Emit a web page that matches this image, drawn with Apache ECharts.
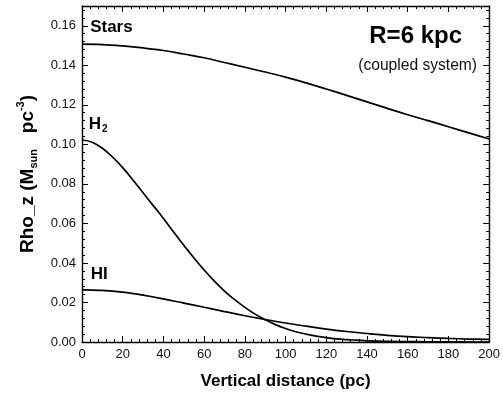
<!DOCTYPE html>
<html>
<head>
<meta charset="utf-8">
<script src="https://cdn.jsdelivr.net/npm/echarts@6/dist/echarts.min.js"></script>
<style>
  html, body { margin: 0; padding: 0; background: #fff; }
  #chart { width: 503px; height: 398px; }
</style>
</head>
<body>
<div id="chart"></div>
<script>
// Vertical distance from the mid-plane (pc)
const zValues = [0, 10, 20, 30, 40, 50, 60, 70, 80, 90, 100,
                 110, 120, 130, 140, 150, 160, 170, 180, 190, 200];
// Finer sampling for the steep molecular-gas profile
const zFine = [0, 5, 10, 15, 20, 25, 30, 35, 40, 45, 50, 55, 60, 65, 70, 75, 80, 85, 90, 95, 100,
               105, 110, 115, 120, 125, 130, 135, 140, 150, 160, 170, 180, 190, 200];

// Volume densities (M_sun pc^-3)
const starsRho = [0.1507, 0.1505, 0.1498, 0.1488, 0.1475, 0.1457, 0.1438, 0.1414, 0.1390, 0.1366, 0.1340,
                  0.1311, 0.1280, 0.1248, 0.1215, 0.1182, 0.1150, 0.1120, 0.1089, 0.1058, 0.1027];
const h2Rho    = [0.1022, 0.1011, 0.0980, 0.0936, 0.0882, 0.0820, 0.0755, 0.0690, 0.0625, 0.0556, 0.0490,
                  0.0425, 0.0364, 0.0308, 0.0258, 0.0214, 0.0175, 0.0141, 0.0113, 0.0088, 0.0068,
                  0.0052, 0.0040, 0.0030, 0.0022, 0.0016, 0.0012, 0.0009, 0.0006, 0.0003, 0.0002,
                  0.0001, 0.0001, 0.0000, 0.0000];
const hiRho    = [0.0264, 0.0261, 0.0252, 0.0237, 0.0218, 0.0197, 0.0176, 0.0154, 0.0133, 0.0114, 0.0096,
                  0.0080, 0.0065, 0.0053, 0.0043, 0.0034, 0.0027, 0.0022, 0.0018, 0.0015, 0.0013];

// Axis ranges and tick spacing
const xRange = [0, 200];
const xStep = 20;
const yRange = [0, 0.17];
const yStep = 0.02;

// Curve labels: [text, x, y]
const curveLabels = [
  ['{b|Stars}', 4, 0.1594],
  ['{b|H}{s|2}', 3.3, 0.1100],
  ['{b|HI}', 4.3, 0.0341]
];

const FONT = '"Liberation Sans", Arial, sans-serif';
const pairs = (xs, ys) => xs.map((z, i) => [z, ys[i]]);

const chart = echarts.init(document.getElementById('chart'), null, { renderer: 'canvas' });

const tickCommon = {
  axisLine: { show: true, onZero: false, lineStyle: { color: '#000', width: 1.4 } },
  axisTick: { show: true, inside: true, length: 6, lineStyle: { color: '#000', width: 1 } },
  minorTick: { show: true, splitNumber: 5, length: 3, lineStyle: { color: '#000', width: 1 } },
  splitLine: { show: false }
};

const lineSeries = (name, xs, ys) => ({
  name, type: 'line', data: pairs(xs, ys), smooth: 0.4, symbol: 'none',
  lineStyle: { color: '#000', width: 1.7 }, z: 3
});

chart.setOption({
  animation: false,
  backgroundColor: '#fff',
  grid: { left: 82, right: 9, top: 6, bottom: 56, containLabel: false },
  xAxis: [
    Object.assign({
      type: 'value', min: xRange[0], max: xRange[1], interval: xStep, position: 'bottom',
      axisLabel: { color: '#111', fontSize: 13, fontFamily: FONT, margin: 6, showMaxLabel: true },
      name: 'Vertical distance (pc)', nameLocation: 'middle', nameGap: 31,
      nameTextStyle: { fontSize: 17, fontWeight: 'bold', fontFamily: FONT, color: '#000' }
    }, tickCommon),
    Object.assign({
      type: 'value', min: xRange[0], max: xRange[1], interval: xStep, position: 'top',
      axisLabel: { show: false }
    }, tickCommon)
  ],
  yAxis: [
    Object.assign({
      type: 'value', min: yRange[0], max: yRange[1], interval: yStep, position: 'left',
      axisLabel: {
        color: '#111', fontSize: 13, fontFamily: FONT, margin: 6, showMaxLabel: false,
        formatter: v => v.toFixed(2)
      },
      name: '{t|Rho_z (M}{sub|sun}{t|   pc}{sup|-3}{t|)}',
      nameLocation: 'middle', nameGap: 42, nameRotate: 90,
      nameTextStyle: {
        fontFamily: FONT, color: '#000',
        rich: {
          t: { fontSize: 19, fontWeight: 'bold', fontFamily: FONT, color: '#000', lineHeight: 24 },
          sub: { fontSize: 11, fontWeight: 'bold', fontFamily: FONT, color: '#000', lineHeight: 24, verticalAlign: 'bottom', padding: [7, 0, 0, 0] },
          sup: { fontSize: 11, fontWeight: 'bold', fontFamily: FONT, color: '#000', lineHeight: 24, verticalAlign: 'top', padding: [0, 0, 9, 0] }
        }
      }
    }, tickCommon),
    Object.assign({
      type: 'value', min: yRange[0], max: yRange[1], interval: yStep, position: 'right',
      axisLabel: { show: false }
    }, tickCommon)
  ],
  series: [
    lineSeries('Stars', zValues, starsRho),
    lineSeries('H2', zFine, h2Rho),
    lineSeries('HI', zValues, hiRho),
    {
      type: 'scatter', symbolSize: 0, silent: true,
      itemStyle: { opacity: 1 },
      data: curveLabels.map(l => ({ value: [l[1], l[2]], name: l[0] })),
      label: {
        show: true, position: 'right', distance: 0, color: '#000', opacity: 1,
        formatter: p => p.name,
        rich: {
          b: { fontSize: 17, fontWeight: 'bold', fontFamily: FONT, color: '#000', lineHeight: 20 },
          s: { fontSize: 10, fontWeight: 'bold', fontFamily: FONT, color: '#000', lineHeight: 20, verticalAlign: 'bottom', padding: [9, 0, 0, 1] }
        }
      }
    }
  ],
  graphic: [
    {
      type: 'text', right: 41, top: 24,
      style: { text: 'R=6 kpc', font: 'bold 24px ' + FONT, fill: '#000' }
    },
    {
      type: 'text', right: 26, top: 58,
      style: { text: '(coupled system)', font: '15.6px ' + FONT, fill: '#111' }
    }
  ]
});
</script>
</body>
</html>
